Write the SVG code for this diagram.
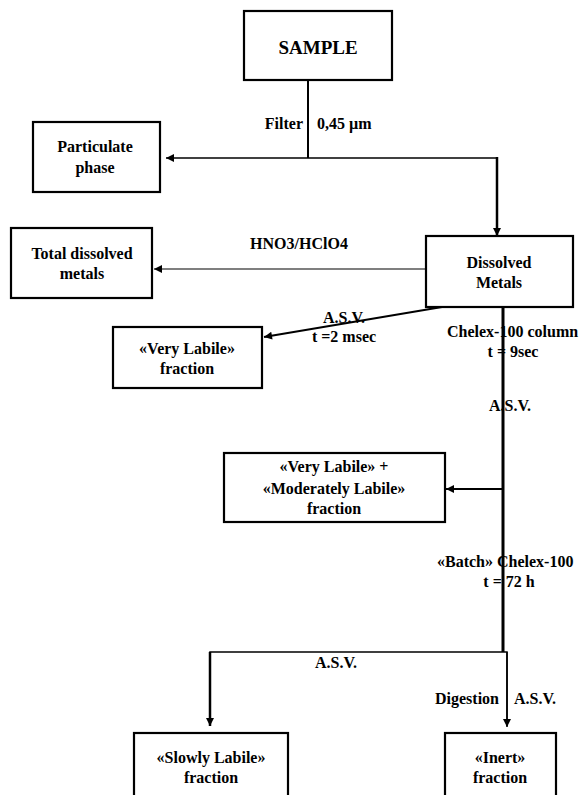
<svg xmlns="http://www.w3.org/2000/svg" width="582" height="795" viewBox="0 0 582 795">
<style>
text{font-family:"Liberation Serif","Times New Roman",serif;font-weight:bold;font-size:16px;fill:#000}
.c{text-anchor:middle}
.e{text-anchor:end}
.box{fill:#fff;stroke:#000;stroke-width:2.2}
.ln{fill:none;stroke:#000}
</style>
<defs>
<marker id="ah" viewBox="0 0 10 10" refX="10" refY="5" markerUnits="userSpaceOnUse" markerWidth="9" markerHeight="8" orient="auto">
<path d="M0,0 L10,5 L0,10 z" fill="#000"/>
</marker>
</defs>
<rect width="582" height="795" fill="#fff"/>

<g id="connectors">
<line class="ln" x1="308" y1="80" x2="308" y2="158" stroke-width="2"/>
<line class="ln" x1="497" y1="158" x2="166" y2="158" stroke-width="1.5" marker-end="url(#ah)"/>
<line class="ln" x1="497" y1="157" x2="497" y2="236" stroke-width="2.5" marker-end="url(#ah)"/>
<line class="ln" x1="426" y1="269" x2="154" y2="269" stroke-width="1.2" marker-end="url(#ah)"/>
<line class="ln" x1="442" y1="307" x2="264" y2="337" stroke-width="2" marker-end="url(#ah)"/>
<line class="ln" x1="503" y1="307" x2="503" y2="652" stroke-width="3"/>
<line class="ln" x1="503" y1="489" x2="446" y2="489" stroke-width="2" marker-end="url(#ah)"/>
<polyline class="ln" points="210,725 210,652 507,652 507,726" stroke-width="1.5"/>
<line class="ln" x1="210" y1="652" x2="210" y2="726" stroke-width="2.5" marker-end="url(#ah)"/>
<line class="ln" x1="507" y1="652" x2="507" y2="727" stroke-width="1.5" marker-end="url(#ah)"/>
</g>

<g id="labels">
<text class="e" x="303" y="129">Filter</text>
<text x="317" y="129">0,45 µm</text>
<text class="c" x="299" y="249">HNO3/HClO4</text>
<text class="c" x="344" y="323">A.S.V.</text>
<text class="c" x="344" y="342">t =2 msec</text>
<text x="447" y="337">Chelex-100 column</text>
<text class="c" x="513" y="357">t = 9sec</text>
<text class="c" x="510" y="411">A.S.V.</text>
<text x="437" y="567">«Batch» Chelex-100</text>
<text class="c" x="509" y="587">t = 72 h</text>
<text class="c" x="336" y="668">A.S.V.</text>
<text x="435" y="704">Digestion</text>
<text x="514" y="704">A.S.V.</text>
</g>

<g id="sample">
<rect class="box" x="244" y="11" width="148" height="69"/>
<text class="c" x="318" y="54" style="font-size:19px">SAMPLE</text>
</g>
<g id="particulate">
<rect class="box" x="33" y="122" width="127" height="70"/>
<text class="c" x="95" y="152">Particulate</text>
<text class="c" x="95" y="173">phase</text>
</g>
<g id="total">
<rect class="box" x="11" y="228" width="141" height="70"/>
<text class="c" x="82" y="259">Total dissolved</text>
<text class="c" x="82" y="279">metals</text>
</g>
<g id="dissolved">
<rect class="box" x="426" y="236" width="147" height="71"/>
<text class="c" x="499" y="268">Dissolved</text>
<text class="c" x="499" y="288">Metals</text>
</g>
<g id="verylabile">
<rect class="box" x="113" y="327" width="149" height="61"/>
<text class="c" x="187" y="354">«Very Labile»</text>
<text class="c" x="187" y="374">fraction</text>
</g>
<g id="moderately">
<rect class="box" x="224" y="453" width="221" height="69"/>
<text class="c" x="334" y="472">«Very Labile» +</text>
<text class="c" x="334" y="494">«Moderately Labile»</text>
<text class="c" x="334" y="514">fraction</text>
</g>
<g id="slowly">
<rect class="box" x="134" y="733" width="154" height="70"/>
<text class="c" x="211" y="763">«Slowly Labile»</text>
<text class="c" x="211" y="783">fraction</text>
</g>
<g id="inert">
<rect class="box" x="445" y="733" width="111" height="70"/>
<text class="c" x="500" y="763">«Inert»</text>
<text class="c" x="500" y="783">fraction</text>
</g>
</svg>
